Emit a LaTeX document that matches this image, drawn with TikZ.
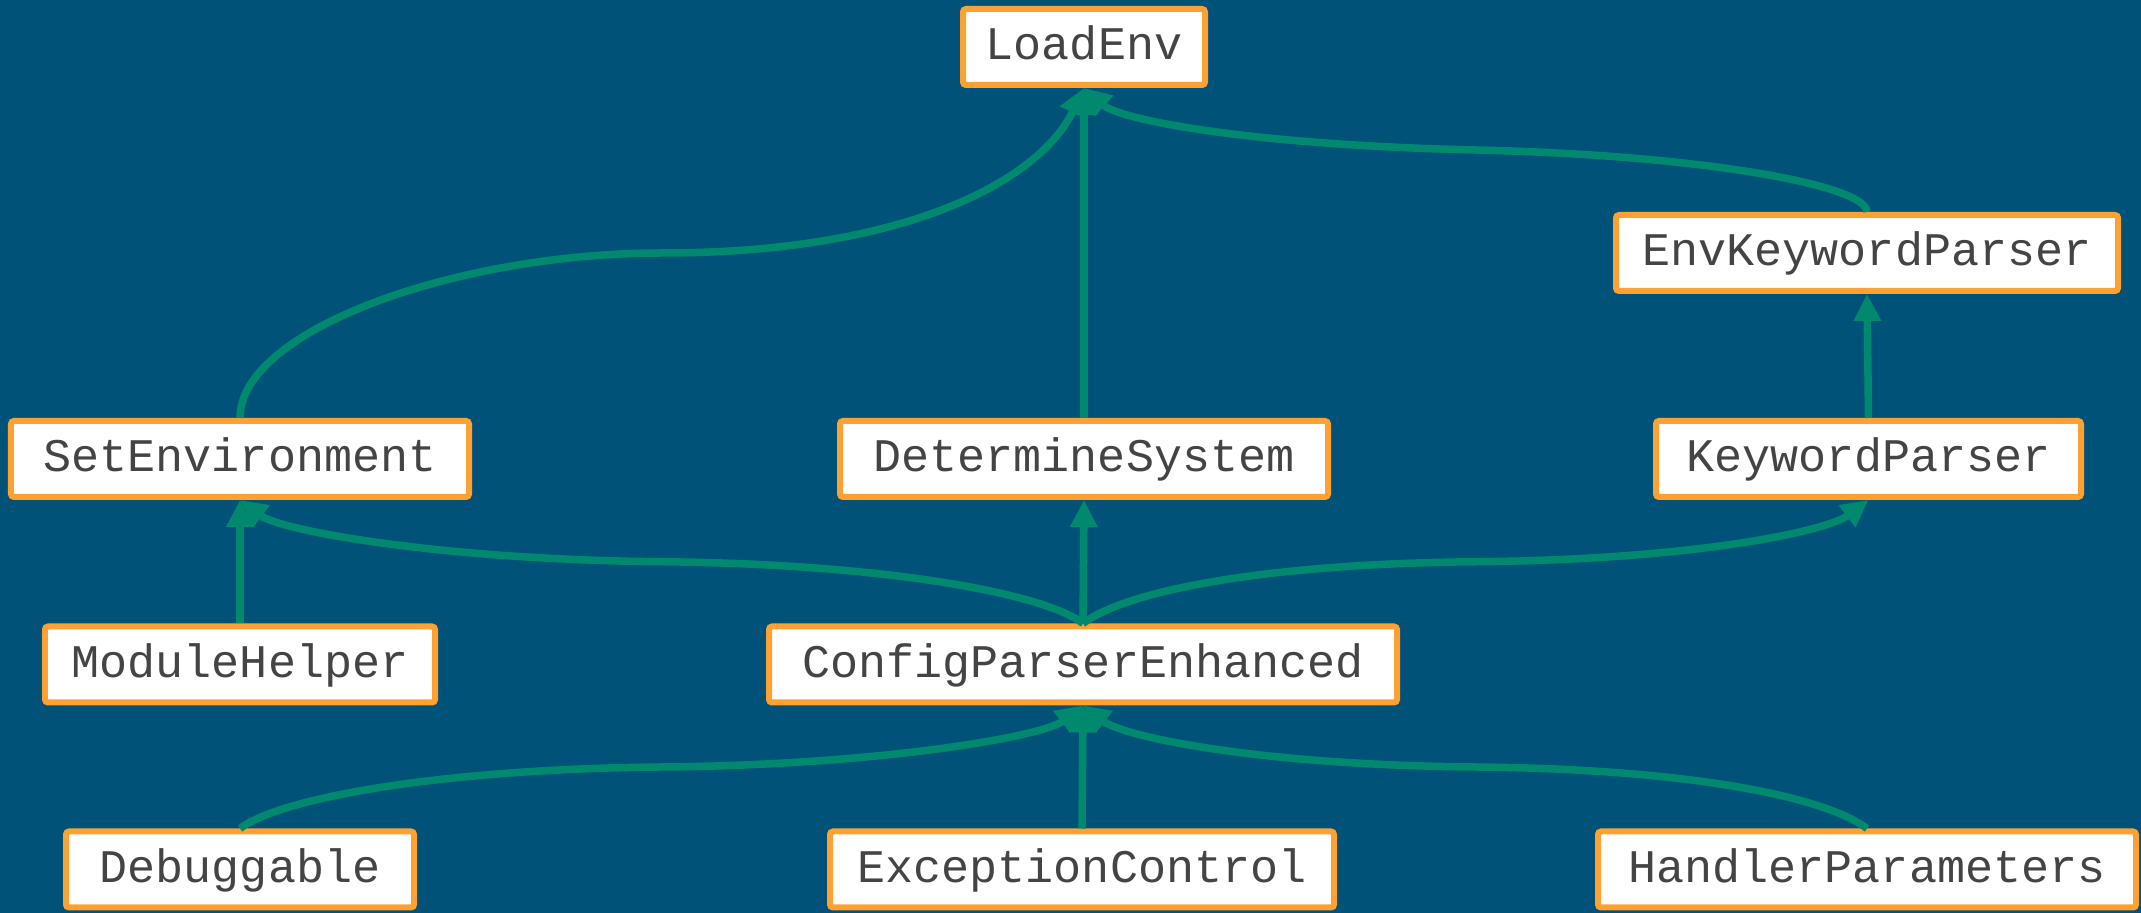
\documentclass[tikz,border=0pt]{standalone}
\usepackage{fontspec}
\setmonofont{Liberation Mono}
\usetikzlibrary{arrows.meta,calc}
\definecolor{bgblue}{RGB}{0,82,120}
\definecolor{edgegreen}{RGB}{0,137,110}
\definecolor{boxorange}{RGB}{255,160,50}
\definecolor{textgray}{RGB}{68,68,68}

\begin{document}
\begin{tikzpicture}[>={Triangle[length=0.27cm,width=0.26cm]},
        cls/.style={draw=boxorange, line width=0.06cm, fill=white, rounded corners=0.03cm,
            inner sep=0pt, minimum height=0.76cm, text height=0.36cm, text depth=0.10cm,
            text=textgray, font=\ttfamily\fontsize{13.3}{16}\selectfont},
        dep/.style={edgegreen, line width=0.075cm, ->}]
        \fill[bgblue] (0,0) rectangle (21.41,-9.13);

        % classes, one row per level
        \node[cls, minimum width=2.42cm] (load_env) at (10.84,-0.47) {LoadEnv};
        \node[cls, minimum width=5.02cm] (env_kw) at (18.67,-2.53) {EnvKeywordParser};
        \node[cls, minimum width=4.58cm] (set_env) at (2.40,-4.59) {SetEnvironment};
        \node[cls, minimum width=4.88cm] (det_sys) at (10.84,-4.59) {DetermineSystem};
        \node[cls, minimum width=4.25cm] (kw_parser) at (18.685,-4.59) {KeywordParser};
        \node[cls, minimum width=3.90cm] (mod_helper) at (2.40,-6.645) {ModuleHelper};
        \node[cls, minimum width=6.28cm] (cpe) at (10.83,-6.645) {ConfigParserEnhanced};
        \node[cls, minimum width=3.48cm] (debug) at (2.40,-8.695) {Debuggable};
        \node[cls, minimum width=5.04cm] (exc_ctl) at (10.82,-8.695) {ExceptionControl};
        \node[cls, minimum width=5.38cm] (handler) at (18.67,-8.695) {HandlerParameters};

        \coordinate (m_set_load) at ($(set_env.north)!0.5!(load_env.south)$);
        \coordinate (m_kw_load) at ($(env_kw.north)!0.5!(load_env.south)$);
        \coordinate (m_cpe_set) at ($(cpe.north)!0.5!(set_env.south)$);
        \coordinate (m_cpe_kw) at ($(cpe.north)!0.5!(kw_parser.south)$);
        \coordinate (m_debug_cpe) at ($(debug.north)!0.5!(cpe.south)$);
        \coordinate (m_handler_cpe) at ($(handler.north)!0.5!(cpe.south)$);

        \draw[dep] (set_env.north) .. controls +(0,0.88) and +(-2.05,0) .. (m_set_load)
            .. controls +(2.45,0) and +(-0.44,-0.92) .. (load_env.south);
        \draw[dep] (det_sys.north) -- (load_env.south);
        \draw[dep] (env_kw.north) .. controls +(0,0.27) and +(2.25,-0.05) .. (m_kw_load)
            .. controls +(-2.25,0.05) and +(0.36,-0.32) .. (load_env.south);
        \draw[dep] (kw_parser.north) -- (env_kw.south);

        \draw[dep] (mod_helper.north) -- (set_env.south);
        \draw[dep] (cpe.north) .. controls +(-0.40,0.31) and +(2.19,-0.02) .. (m_cpe_set)
            .. controls +(-2.19,0.02) and +(0.41,-0.31) .. (set_env.south);
        \draw[dep] (cpe.north) -- (det_sys.south);
        \draw[dep] (cpe.north) .. controls +(0.40,0.31) and +(-2.19,-0.02) .. (m_cpe_kw)
            .. controls +(2.19,0.02) and +(-0.41,-0.31) .. (kw_parser.south);

        \draw[dep] (debug.north) .. controls +(0.41,0.31) and +(-2.19,-0.02) .. (m_debug_cpe)
            .. controls +(2.19,0.02) and +(-0.40,-0.31) .. (cpe.south);
        \draw[dep] (exc_ctl.north) -- (cpe.south);
        \draw[dep] (handler.north) .. controls +(-0.41,0.31) and +(2.19,-0.02) .. (m_handler_cpe)
            .. controls +(-2.19,0.02) and +(0.40,-0.31) .. (cpe.south);

    \end{tikzpicture}
\end{document}
